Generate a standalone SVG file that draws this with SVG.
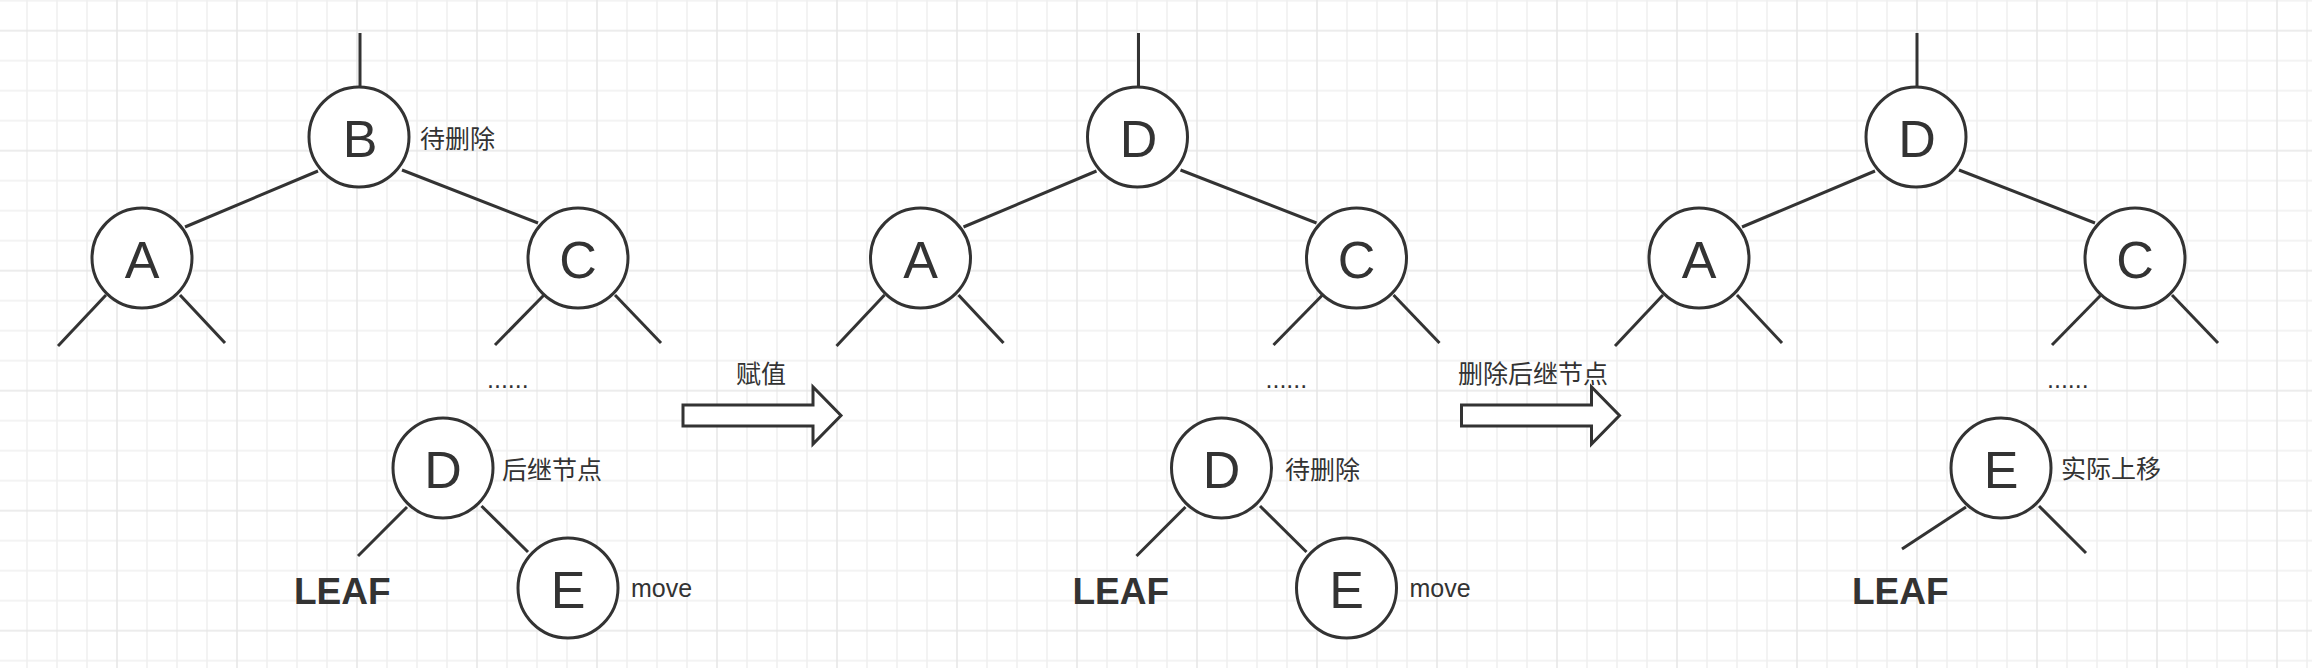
<svg xmlns="http://www.w3.org/2000/svg" width="2312" height="668" viewBox="0 0 2312 668">
  <style>
    .nd { fill: #ffffff; stroke: #333333; stroke-width: 3; }
    .ln { stroke: #333333; stroke-width: 3; fill: none; }
    .big { font-family: "Liberation Sans", Arial, sans-serif; font-size: 52px; fill: #333333; text-anchor: middle; }
    .lbl { font-family: "Liberation Sans", "Noto Sans CJK SC", sans-serif; font-size: 25px; fill: #333333; }
    .leaf { font-family: "Liberation Sans", Arial, sans-serif; font-size: 37px; font-weight: bold; fill: #333333; }
    .blk { fill: #ffffff; stroke: #333333; stroke-width: 3; stroke-linejoin: miter; }
  </style>
  <defs>
    <pattern id="grid" patternUnits="userSpaceOnUse" x="-18" y="15.7" width="120" height="120">
      <rect width="120" height="120" fill="#ffffff"/>
      <g fill="#f0f0f0">
        <rect x="44.25" y="0" width="1.5" height="120"/>
        <rect x="74.25" y="0" width="1.5" height="120"/>
        <rect x="104.25" y="0" width="1.5" height="120"/>
        <rect x="0" y="44.25" width="120" height="1.5"/>
        <rect x="0" y="74.25" width="120" height="1.5"/>
        <rect x="0" y="104.25" width="120" height="1.5"/>
      </g>
      <g fill="#e6e6e6">
        <rect x="14.25" y="0" width="1.5" height="120"/>
        <rect x="0" y="14.25" width="120" height="1.5"/>
      </g>
    </pattern>
  </defs>
  <rect id="background" x="0" y="0" width="2312" height="668" fill="url(#grid)"/>

  <g id="connectors">
    <g id="connectors-1">
      <line class="ln" x1="360" y1="33" x2="360" y2="87"/>
      <line class="ln" x1="318" y1="171" x2="185" y2="227"/>
      <line class="ln" x1="402" y1="170" x2="538" y2="223"/>
      <line class="ln" x1="106" y1="295" x2="58" y2="346"/>
      <line class="ln" x1="180" y1="295" x2="225" y2="343"/>
      <line class="ln" x1="544" y1="295" x2="495" y2="345"/>
      <line class="ln" x1="615" y1="295" x2="661" y2="343"/>
      <line class="ln" x1="407" y1="507" x2="358" y2="556"/>
      <line class="ln" x1="481.5" y1="506" x2="528" y2="552"/>
    </g>
    <g id="connectors-2" transform="translate(778.5,0)">
      <line class="ln" x1="360" y1="33" x2="360" y2="87"/>
      <line class="ln" x1="318" y1="171" x2="185" y2="227"/>
      <line class="ln" x1="402" y1="170" x2="538" y2="223"/>
      <line class="ln" x1="106" y1="295" x2="58" y2="346"/>
      <line class="ln" x1="180" y1="295" x2="225" y2="343"/>
      <line class="ln" x1="544" y1="295" x2="495" y2="345"/>
      <line class="ln" x1="615" y1="295" x2="661" y2="343"/>
      <line class="ln" x1="407" y1="507" x2="358" y2="556"/>
      <line class="ln" x1="481.5" y1="506" x2="528" y2="552"/>
    </g>
    <g id="connectors-3" transform="translate(1557,0)">
      <line class="ln" x1="360" y1="33" x2="360" y2="87"/>
      <line class="ln" x1="318" y1="171" x2="185" y2="227"/>
      <line class="ln" x1="402" y1="170" x2="538" y2="223"/>
      <line class="ln" x1="106" y1="295" x2="58" y2="346"/>
      <line class="ln" x1="180" y1="295" x2="225" y2="343"/>
      <line class="ln" x1="544" y1="295" x2="495" y2="345"/>
      <line class="ln" x1="615" y1="295" x2="661" y2="343"/>
      <line class="ln" x1="409" y1="507" x2="345" y2="549"/>
      <line class="ln" x1="482" y1="506" x2="529" y2="553"/>
    </g>
  </g>

  <!-- Panel 1 -->
  <g id="panel-1">
    <g id="p1-B"><circle class="nd" cx="359" cy="137" r="50"/><text class="big" x="360" y="157">B</text></g>
    <text class="lbl" x="420" y="148">待删除</text>
    <g id="p1-A"><circle class="nd" cx="142" cy="258" r="50"/><text class="big" x="142" y="278">A</text></g>
    <g id="p1-C"><circle class="nd" cx="578" cy="258" r="50"/><text class="big" x="578" y="278">C</text></g>
    <text class="lbl" x="487" y="388">......</text>
    <g id="p1-D"><circle class="nd" cx="443" cy="468" r="50"/><text class="big" x="443" y="488">D</text></g>
    <text class="lbl" x="502" y="479">后继节点</text>
    <g id="p1-E"><circle class="nd" cx="568" cy="588" r="50"/><text class="big" x="568" y="608">E</text></g>
    <text class="lbl" x="631" y="597">move</text>
    <text class="leaf" x="294" y="603.5">LEAF</text>
    <g id="arrow-1">
      <polygon class="blk" points="683,405 813,405 813,387 841,415.5 813,444 813,426 683,426"/>
      <text class="lbl" x="761" y="382.5" text-anchor="middle">赋值</text>
    </g>
  </g>

  <!-- Panel 2 -->
  <g id="panel-2" transform="translate(778.5,0)">
    <g id="p2-D-root"><circle class="nd" cx="359" cy="137" r="50"/><text class="big" x="360" y="157">D</text></g>
    <g id="p2-A"><circle class="nd" cx="142" cy="258" r="50"/><text class="big" x="142" y="278">A</text></g>
    <g id="p2-C"><circle class="nd" cx="578" cy="258" r="50"/><text class="big" x="578" y="278">C</text></g>
    <text class="lbl" x="487" y="388">......</text>
    <g id="p2-D"><circle class="nd" cx="443" cy="468" r="50"/><text class="big" x="443" y="488">D</text></g>
    <text class="lbl" x="506.5" y="479">待删除</text>
    <g id="p2-E"><circle class="nd" cx="568" cy="588" r="50"/><text class="big" x="568" y="608">E</text></g>
    <text class="lbl" x="631" y="597">move</text>
    <text class="leaf" x="294" y="603.5">LEAF</text>
    <g id="arrow-2">
      <polygon class="blk" points="683,405 813,405 813,387 841,415.5 813,444 813,426 683,426"/>
      <text class="lbl" x="754.5" y="382.5" text-anchor="middle">删除后继节点</text>
    </g>
  </g>

  <!-- Panel 3 -->
  <g id="panel-3" transform="translate(1557,0)">
    <g id="p3-D-root"><circle class="nd" cx="359" cy="137" r="50"/><text class="big" x="360" y="157">D</text></g>
    <g id="p3-A"><circle class="nd" cx="142" cy="258" r="50"/><text class="big" x="142" y="278">A</text></g>
    <g id="p3-C"><circle class="nd" cx="578" cy="258" r="50"/><text class="big" x="578" y="278">C</text></g>
    <text class="lbl" x="490" y="388">......</text>
    <g id="p3-E"><circle class="nd" cx="444" cy="468" r="50"/><text class="big" x="444" y="488">E</text></g>
    <text class="lbl" x="504" y="478">实际上移</text>
    <text class="leaf" x="295" y="603.5">LEAF</text>
  </g>
</svg>
